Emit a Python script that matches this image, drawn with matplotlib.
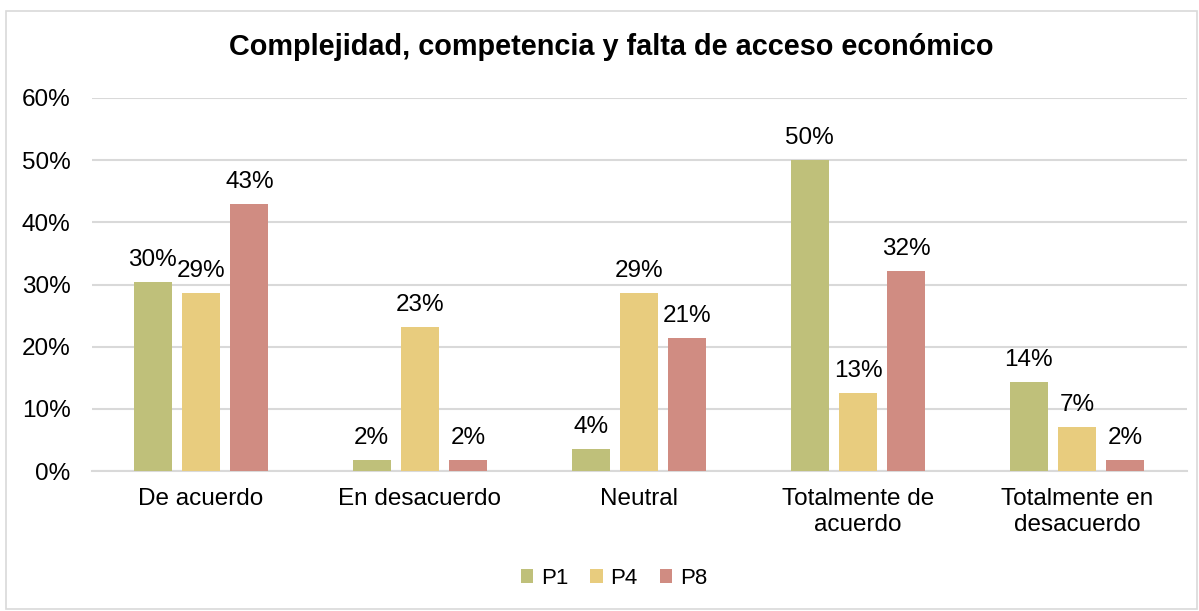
import matplotlib
matplotlib.use("Agg")
import matplotlib.pyplot as plt
from matplotlib.patches import Rectangle
import numpy as np

categories = ["De acuerdo", "En desacuerdo", "Neutral", "Totalmente de\nacuerdo", "Totalmente en\ndesacuerdo"]
series_names = ["P1", "P4", "P8"]
p1 = [0.304, 0.018, 0.036, 0.500, 0.143]
p4 = [0.286, 0.232, 0.286, 0.125, 0.071]
p8 = [0.429, 0.018, 0.214, 0.321, 0.018]
colors = ["#BFC07A", "#E8CC7E", "#D08C82"]
yticks = [0, 0.1, 0.2, 0.3, 0.4, 0.5, 0.6]
ytick_labels = ["0%", "10%", "20%", "30%", "40%", "50%", "60%"]

plt.rcParams['font.family'] = ['Liberation Sans', 'DejaVu Sans']

fig = plt.figure(figsize=(11.99, 6.11), dpi=100)
W, H = 1199, 611
ax = fig.add_axes([91.5 / W, 1 - 471 / H, (1186.5 - 91.5) / W, (471 - 98) / H])

FS = 17.5
x = np.arange(len(categories))
bw = 0.174
off = 0.221
for i, (vals, name, c) in enumerate(zip([p1, p4, p8], series_names, colors)):
    xs = x + (i - 1) * off
    ax.bar(xs, vals, width=bw, color=c, label=name, zorder=3)
    for xi, v in zip(xs, vals):
        ax.annotate(f"{int(v * 100 + 0.5)}%", (xi, v), xytext=(0, 8), textcoords="offset points",
                    ha="center", va="bottom", fontsize=FS, color="#000000")

ax.set_xlim(-0.5, len(categories) - 0.5)
ax.set_ylim(0, 0.6)
ax.set_yticks(yticks)
ax.set_yticklabels(ytick_labels, fontsize=FS)
ax.set_xticks(x)
ax.set_xticklabels(categories, fontsize=FS, linespacing=1.25)
ax.tick_params(axis="x", length=0, pad=12)
ax.tick_params(axis="y", length=0, pad=15)
ax.grid(axis="y", color="#D9D9D9", linewidth=1.5, zorder=0)
for s in ["top", "right", "left"]:
    ax.spines[s].set_visible(False)
ax.spines["bottom"].set_color("#D9D9D9")
ax.spines["bottom"].set_linewidth(1.5)

fig.text(611 / W, 1 - 47 / H, "Complejidad, competencia y falta de acceso económico",
         ha="center", va="center", fontsize=20.8, fontweight="bold")

leg = fig.legend(loc="center", bbox_to_anchor=(614 / W, 1 - 578 / H), ncol=3, frameon=False,
                 fontsize=16, handlelength=0.55, handleheight=0.6, handletextpad=0.35, columnspacing=1.0)

fig.patches.append(Rectangle((6 / W, 2 / H), (W - 8) / W, (611 - 13) / H, transform=fig.transFigure,
                             fill=False, edgecolor="#D9D9D9", linewidth=1.2))

fig.savefig("out.png", dpi=100)
